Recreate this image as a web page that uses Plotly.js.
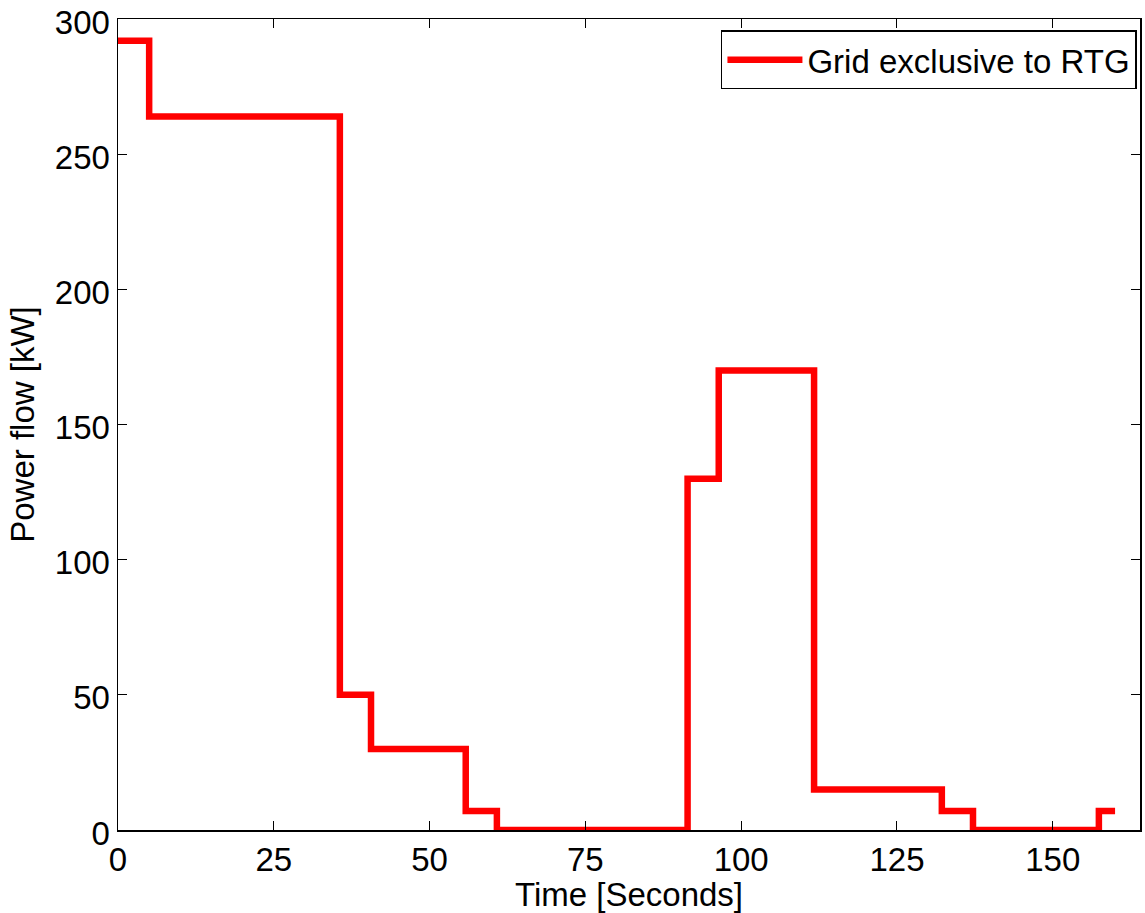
<!DOCTYPE html>
<html>
<head>
<meta charset="utf-8">
<script src="https://cdn.plot.ly/plotly-3.0.1.min.js"></script>
<style>html,body{margin:0;padding:0;background:#fff;}#chart{width:1145px;height:913px;}</style>
</head>
<body>
<div id="chart"></div>
<script>
const timeSeconds = [0, 5, 35.6, 40.6, 55.8, 60.8, 91.4, 96.4, 111.7, 132.2, 137.2, 157.4, 160];
const powerKW =     [292, 264, 50, 30, 7, 0, 130, 170, 15, 7, 0, 7, 7];
const seriesName = 'Grid exclusive to RTG';
const xTicks = [0, 25, 50, 75, 100, 125, 150];
const yTicks = [0, 50, 100, 150, 200, 250, 300];

const font = {family: 'Liberation Sans, Arial, sans-serif', size: 33, color: '#000'};

const trace = {
  x: timeSeconds, y: powerKW, type: 'scatter', mode: 'lines',
  line: {shape: 'hv', color: '#ff0000', width: 6.5},
  name: seriesName
};

const axisCommon = {
  showline: true, linecolor: '#000', linewidth: 1.5, mirror: 'ticks',
  ticks: 'inside', ticklen: 9, tickwidth: 1, tickcolor: '#000',
  showgrid: false, zeroline: false, tickfont: font, ticklabeloverflow: 'allow'
};

const layout = {
  width: 1145, height: 913,
  margin: {l: 118, r: 5, t: 19, b: 83},
  paper_bgcolor: '#fff', plot_bgcolor: '#fff',
  font: font,
  showlegend: true,
  legend: {x: 0.997, y: 0.986, xanchor: 'right', yanchor: 'top',
           bordercolor: '#000', borderwidth: 1.5, bgcolor: '#fff',
           font: font, itemwidth: 75},
  xaxis: Object.assign({}, axisCommon, {
    range: [0, 164], tickvals: xTicks, ticktext: xTicks.map(String),
    title: {text: 'Time [Seconds]', font: font, standoff: 0}
  }),
  yaxis: Object.assign({}, axisCommon, {
    range: [0, 300.05], tickvals: yTicks, ticktext: yTicks.map(String),
    ticklabelshift: 3,
    title: {text: 'Power flow [kW]', font: font, standoff: 10}
  })
};

Plotly.newPlot('chart', [trace], layout, {displayModeBar: false, staticPlot: true});
</script>
</body>
</html>
